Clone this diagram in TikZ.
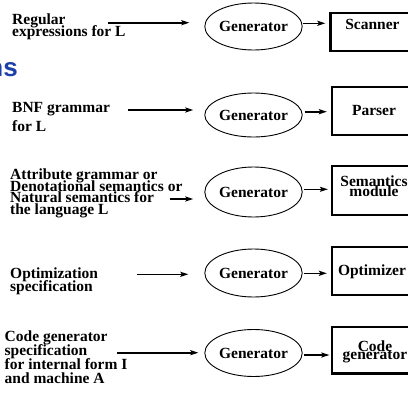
\documentclass[tikz,border=0pt]{standalone}
\usepackage{fontspec}
\usetikzlibrary{arrows.meta,shapes.geometric}
\newfontfamily\serifbold{Liberation Serif}[UprightFont=* Bold]
\newfontfamily\sansbold{Liberation Sans}[UprightFont=* Bold]
\definecolor{headblue}{RGB}{28,63,170}
\tikzset{
  lines/.style={font={\serifbold\fontsize{15.5}{#1}\selectfont\lineskiplimit=-100pt\lineskip=0pt}},
  spec/.style={lines=#1, align=left, inner sep=0pt, anchor=base west},
  gen/.style={ellipse, draw, line width=0.9pt, minimum width=95pt, inner sep=0pt,
              font={\serifbold\fontsize{15.5}{15.5}\selectfont}},
  mod/.style={draw, line width=2.2pt, minimum width=94pt, inner sep=0pt},
  modtext/.style={lines=#1, align=center, inner sep=0pt, anchor=base},
  arr/.style={line width=1.6pt, -{Stealth[length=8pt,width=5pt,inset=1.5pt]}},
  sarr/.style={arr, line width=#1},
}
\begin{document}
\begin{tikzpicture}[x=1pt,y=-1pt]
\useasboundingbox (0,0) rectangle (408,394);

% cut-off heading
\node[anchor=base east, inner sep=0pt, text=headblue,
      font={\sansbold\fontsize{26}{26}\selectfont}] (head) at (18,76.7) {ns};

% specifications on the left (placed by the baseline of their last line)
\node[spec=12.5] (s1) at (12,36.5) {Regular\\expressions for L};
\node[spec=19]   (s2) at (12,131.7) {BNF grammar\\for L};
\node[spec=11.7] (s3) at (10,214.4) {Attribute grammar or\\Denotational semantics or\\Natural semantics for\\the language L};
\node[spec=13.5] (s4) at (10,291.5) {Optimization\\specification};
\node[spec=14]   (s5) at (4.5,383.5) {Code generator\\specification\\for internal form I\\and machine A};

% generators
\node[gen, minimum height=47pt] (g1) at (253.5,26.5) {Generator};
\node[gen, minimum height=44pt] (g2) at (253.5,115) {Generator};
\node[gen, minimum height=50pt] (g3) at (253.5,192) {Generator};
\node[gen, minimum height=48pt] (g4) at (253.5,273) {Generator};
\node[gen, minimum height=47pt] (g5) at (253.5,353) {Generator};

% generated modules (their right sides run past the edge)
\node[mod, minimum height=38pt] (b1) at (377.5,31.7) {};
\node[mod, minimum height=48pt] (b2) at (379,111) {};
\node[mod, minimum height=49pt] (b3) at (379,190.5) {};
\node[mod, minimum height=48.3pt] (b4) at (379,270.85) {};
\node[mod, minimum height=46.8pt] (b5) at (379,350.1) {};

\node[modtext=15.5] (t1) at (372.5,29) {Scanner};
\node[modtext=15.5] (t2) at (374,115) {Parser};
\node[modtext=10]   (t3) at (374,196) {Semantics\\module};
\node[modtext=15.5] (t4) at (372,275) {Optimizer};
\node[modtext=8.5]  (t5) at (375,359.5) {Code\\generator};

% arrow start points on the left
\coordinate (a1) at (108,22.7);
\coordinate (a2) at (128,110);
\coordinate (a3) at (170,199);
\coordinate (a4) at (137,274.3);
\coordinate (a5) at (117,352.7);

\draw[arr] (a1) -- (g1.west |- a1) [shorten >=15pt];
\draw[arr] (a2) -- (g2.west |- a2) [shorten >=11pt];
\draw[arr, line width=2pt] (a3) -- (g3.west |- a3) [shorten >=11pt];
\draw[arr] (a4) -- (g4.west |- a4) [shorten >=16pt];
\draw[arr] (a5) -- (g5.west |- a5) [shorten >=6pt];

% levels of the generator-to-module arrows
\coordinate (r1) at (0,23.3);
\coordinate (r2) at (0,111.7);
\coordinate (r3) at (0,189.3);
\coordinate (r4) at (0,273.3);
\coordinate (r5) at (0,355);

\draw[sarr=1.6pt, shorten >=4pt] (g1.east |- r1) -- (b1.west |- r1);
\draw[sarr=1.6pt, shorten >=4pt, shorten <=2pt] (g2.east |- r2) -- (b2.west |- r2);
\draw[sarr=1pt,   shorten >=3pt, shorten <=1pt] (g3.east |- r3) -- (b3.west |- r3);
\draw[sarr=1.6pt, shorten >=4pt, shorten <=1pt] (g4.east |- r4) -- (b4.west |- r4);
\draw[sarr=1.6pt, shorten >=1.5pt, shorten <=1pt] (g5.east |- r5) -- (b5.west |- r5);
\end{tikzpicture}
\end{document}
